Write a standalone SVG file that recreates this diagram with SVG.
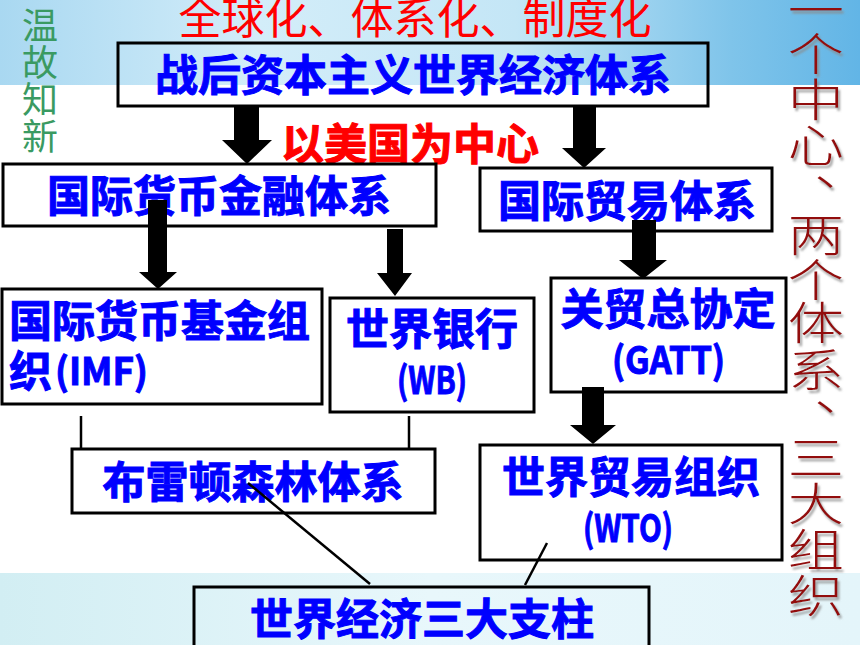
<svg xmlns="http://www.w3.org/2000/svg" width="860" height="645" viewBox="0 0 860 645">
<defs>
<linearGradient id="topbg" x1="0" y1="0" x2="1" y2="0">
<stop offset="0" stop-color="#a9d8f1"/>
<stop offset="0.3" stop-color="#d3edf9"/>
<stop offset="0.6" stop-color="#c4e6f6"/>
<stop offset="0.85" stop-color="#7fc4ea"/>
<stop offset="1" stop-color="#62b5e6"/>
</linearGradient>
<linearGradient id="botbg" x1="0" y1="0" x2="1" y2="0">
<stop offset="0" stop-color="#d2eef3"/>
<stop offset="0.5" stop-color="#e8f7fb"/>
<stop offset="1" stop-color="#e4f5fa"/>
</linearGradient>
<filter id="shadow" x="-20%" y="-5%" width="150%" height="110%">
<feDropShadow dx="2" dy="3" stdDeviation="0.8" flood-color="#8a8a8a" flood-opacity="0.8"/>
</filter>
<style>
.box{fill:none;stroke:#000;stroke-width:3}
.t{font-family:"Noto Sans CJK SC","Noto Sans",sans-serif;font-weight:700;font-size:43px;fill:#0000ff;stroke:#0000ff;stroke-width:1;text-anchor:middle}
.lat{font-size:38px;font-weight:700}
.st{text-anchor:start}
.arrow{fill:#000}
.conn{stroke:#000;stroke-width:2.5;fill:none}
.red{font-family:"Noto Sans CJK SC","Noto Sans",sans-serif;fill:#ff0000;text-anchor:middle;font-size:43px}
.vt{font-family:"Noto Sans CJK SC","Noto Sans",sans-serif;font-weight:300;font-size:45px;text-anchor:middle;fill:#920a0a}
.gr{font-family:"Noto Sans CJK SC","Noto Sans",sans-serif;font-size:36px;fill:#3a9a62;text-anchor:middle}
</style>
</defs>
<!-- background -->
<rect x="0" y="0" width="860" height="645" fill="#ffffff"/>
<rect x="0" y="0" width="860" height="85" fill="url(#topbg)"/>
<rect x="0" y="573" width="860" height="72" fill="url(#botbg)"/>

<!-- headings -->
<text class="red" x="415" y="34">全球化、体系化、制度化</text>
<g id="wengu">
<text class="gr" x="40" y="39">温</text>
<text class="gr" x="40" y="76">故</text>
<text class="gr" x="40" y="113">知</text>
<text class="gr" x="40" y="150">新</text>
</g>

<!-- vertical slogan -->
<g id="slogan" filter="url(#shadow)">
<g transform="translate(816,0) scale(1.25,1)">
<text class="vt" x="0" y="27">一</text>
<text class="vt" x="0" y="71">个</text>
<text class="vt" x="0" y="117">中</text>
<text class="vt" x="0" y="162">心</text>
<text class="vt" x="21" y="186">、</text>
<text class="vt" x="0" y="252">两</text>
<text class="vt" x="0" y="297">个</text>
<text class="vt" x="0" y="340">体</text>
<text class="vt" x="0" y="387">系</text>
<text class="vt" x="21" y="411">、</text>
<text class="vt" x="0" y="475">三</text>
<text class="vt" x="0" y="521">大</text>
<text class="vt" x="0" y="567">组</text>
<text class="vt" x="0" y="613">织</text>
</g>
</g>

<!-- nodes -->
<g id="n-top">
<rect class="box" x="118" y="43" width="590" height="63"/>
<text class="t" x="413" y="91">战后资本主义世界经济体系</text>
</g>
<g id="n-center-label">
<text class="red" x="410" y="160" font-weight="700" stroke="#ff0000" stroke-width="1">以美国为中心</text>
</g>
<g id="n-money">
<rect class="box" x="3" y="164" width="433" height="62" fill="#fff"/>
<text class="t" x="219" y="212">国际货币金融体系</text>
</g>
<g id="n-trade">
<rect class="box" x="480" y="168" width="292" height="63"/>
<text class="t" x="627" y="217">国际贸易体系</text>
</g>
<g id="n-imf">
<rect class="box" x="2" y="289" width="320" height="115"/>
<text class="t st" x="9" y="337">国际货币基金组</text>
<text class="t st" x="9" y="387">织<tspan class="lat" x="55" y="385" textLength="93" lengthAdjust="spacingAndGlyphs">(IMF)</tspan></text>
</g>
<g id="n-wb">
<rect class="box" x="330" y="298" width="204" height="114"/>
<text class="t" x="432" y="345">世界银行</text>
<text class="t lat st" x="397" y="394" textLength="70" lengthAdjust="spacingAndGlyphs">(WB)</text>
</g>
<g id="n-gatt">
<rect class="box" x="551" y="278" width="235" height="114"/>
<text class="t" x="668" y="325">关贸总协定</text>
<text class="t lat st" x="612" y="374" textLength="113" lengthAdjust="spacingAndGlyphs">(GATT)</text>
</g>
<g id="n-bretton">
<rect class="box" x="72" y="449" width="363" height="64"/>
<text class="t" x="253" y="498">布雷顿森林体系</text>
</g>
<g id="n-wto">
<rect class="box" x="480" y="445" width="302" height="115"/>
<text class="t" x="631" y="493">世界贸易组织</text>
<text class="t lat st" x="583" y="542" textLength="90" lengthAdjust="spacingAndGlyphs">(WTO)</text>
</g>
<g id="n-pillars">
<rect class="box" x="194" y="587" width="455" height="80"/>
<text class="t" x="422" y="635">世界经济三大支柱</text>
</g>

<!-- connectors -->
<g id="connectors">
<polygon class="arrow" points="234,107 259,107 259,140 272,140 247,164 222,140 234,140"/>
<polygon class="arrow" points="573,107 596,107 596,148 606,148 584,168 562,148 573,148"/>
<polygon class="arrow" points="148,200 167,200 167,272 177,272 158,289 139,272 148,272"/>
<polygon class="arrow" points="387,229 403,229 403,273 412,273 395,296 377,273 387,273"/>
<polygon class="arrow" points="632,220 656,220 656,260 667,260 643,279 619,260 632,260"/>
<polygon class="arrow" points="582,387 604,387 604,425 616,425 593,444 570,425 582,425"/>
<line class="conn" x1="81" y1="416" x2="81" y2="449"/>
<line class="conn" x1="409" y1="416" x2="409" y2="449"/>
<line class="conn" x1="248" y1="483" x2="370" y2="584"/>
<line class="conn" x1="547" y1="543" x2="525" y2="585"/>
</g>
</svg>
